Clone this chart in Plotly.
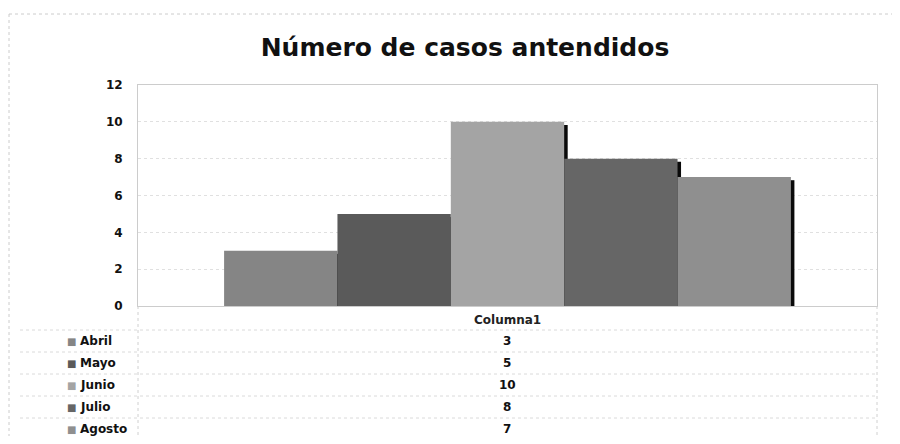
import plotly.graph_objects as go

# ---- data ----
months = ["Abril", "Mayo", "Junio", "Julio", "Agosto"]
values = [3, 5, 10, 8, 7]
category = ["Columna1"]
title_text = "Número de casos antendidos"
y_ticks = [0, 2, 4, 6, 8, 10, 12]

colors = ["#858585", "#5a5a5a", "#a4a4a4", "#666666", "#8f8f8f"]

# page body has an 8px margin, so figure is 16px smaller than the window
OFF = 8
W, H = 900 - 2 * OFF, 444 - 2 * OFF
L, T = 138 - OFF, 85 - OFF
R = W - (877 - OFF)
B = H - (306 - OFF)
plot_h = H - T - B
plot_w = W - L - R

def py(ref_y):
    """reference pixel y -> paper y"""
    return (H - B - (ref_y - OFF)) / plot_h

def px(ref_x):
    return ((ref_x - OFF) - L) / plot_w

group_w = 0.767
bar_w = group_w / len(months)
shadow_w = 5 / plot_w
shadow_drop = 0.17

fig = go.Figure()
for i, (m, v, c) in enumerate(zip(months, values, colors)):
    off = -group_w / 2 + i * bar_w
    # drop-shadow edge (drawn before the bar so the next bar hides it)
    fig.add_trace(go.Bar(
        x=category, y=[v - shadow_drop], width=shadow_w,
        offset=off + bar_w - shadow_w * 0.3,
        marker=dict(color="#0a0a0a", line=dict(width=0)),
        showlegend=False, hoverinfo="skip"))
    fig.add_trace(go.Bar(
        x=category, y=[v], name=m, width=bar_w, offset=off,
        marker=dict(color=c, line=dict(width=0)),
        showlegend=False))

annotations = []
shapes = []
font_txt = dict(family="DejaVu Sans", size=12, color="#111111")

def ann(x, y, text, xanchor, font):
    return dict(x=x, y=y, xref="paper", yref="paper", text=text,
                showarrow=False, xanchor=xanchor, yanchor="middle", font=font)

# header
annotations.append(ann(px(507), py(320), "<b>" + category[0] + "</b>", "center",
                       dict(family="DejaVu Sans", size=12, color="#222222")))
row_y = [341, 363, 385, 407, 429]
for m, v, c, ry in zip(months, values, colors, row_y):
    annotations.append(ann(px(65), py(ry), "■", "left",
                           dict(family="DejaVu Sans", size=10, color=c)))
    annotations.append(ann(px(78), py(ry), "<b>" + m + "</b>", "left", font_txt))
    annotations.append(ann(px(507), py(ry), "<b>" + str(v) + "</b>", "center",
                           font_txt))

# table grid lines
for ly in [330, 352, 374, 396, 418]:
    shapes.append(dict(type="line", xref="paper", yref="paper",
                       x0=px(20), x1=1, y0=py(ly), y1=py(ly),
                       line=dict(color="#dadada", width=1, dash="dot")))
for lx in [138, 877]:
    shapes.append(dict(type="line", xref="paper", yref="paper",
                       x0=px(lx), x1=px(lx), y0=0, y1=py(444),
                       line=dict(color="#d0d0d0", width=1, dash="dot")))
# outer chart frame
shapes.append(dict(type="line", xref="paper", yref="paper",
                   x0=px(9), x1=px(900), y0=py(14), y1=py(14),
                   line=dict(color="#cccccc", width=1, dash="dot")))
shapes.append(dict(type="line", xref="paper", yref="paper",
                   x0=px(9), x1=px(9), y0=py(14), y1=py(444),
                   line=dict(color="#cccccc", width=1, dash="dot")))

fig.update_layout(
    width=W, height=H,
    margin=dict(l=L, r=R, t=T, b=B, pad=0),
    paper_bgcolor="white", plot_bgcolor="white",
    barmode="overlay",
    title=dict(text="<b>" + title_text + "</b>", x=px(465), xref="paper",
               xanchor="center",
               y=1 - (47 - OFF) / H, yanchor="middle",
               font=dict(family="DejaVu Sans", size=25, color="#111111")),
    xaxis=dict(type="category", range=[-0.5, 0.5], showticklabels=False,
               showgrid=False, zeroline=False, showline=True,
               linecolor="#cccccc", mirror=True, ticks=""),
    yaxis=dict(range=[0, 12], tickvals=y_ticks, showgrid=True,
               gridcolor="#e0e0e0", griddash="dot", zeroline=False,
               showline=True, linecolor="#cccccc", mirror=True,
               ticks="", ticklabelstandoff=12,
               tickfont=dict(family="DejaVu Sans", size=12, color="#111111",
                             weight="bold")),
    annotations=annotations, shapes=shapes,
    showlegend=False,
)

fig.write_html("out.html")
